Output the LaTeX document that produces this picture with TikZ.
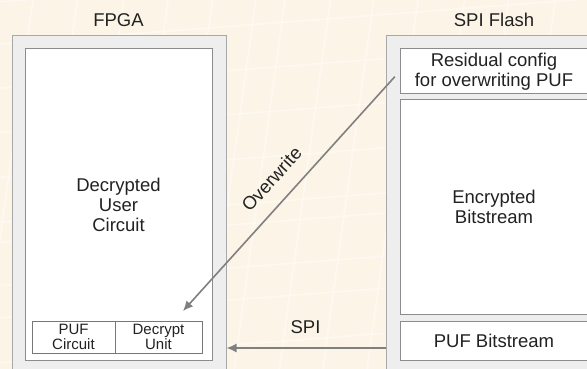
\documentclass[tikz,border=0pt]{standalone}
\usepackage{fontspec}
\setmainfont{Liberation Sans}
\usetikzlibrary{arrows.meta}
\definecolor{bgcream}{RGB}{252,245,231}
\definecolor{outerfill}{RGB}{238,238,238}
\definecolor{outerline}{RGB}{168,168,168}
\definecolor{innerline}{RGB}{140,140,140}
\definecolor{arrowgray}{RGB}{128,128,128}
\definecolor{txt}{RGB}{34,34,34}
\tikzset{
  outerbox/.style={draw=outerline, fill=outerfill, line width=1pt, inner sep=0pt, rectangle},
  innerbox/.style={draw=innerline, fill=white, line width=1pt, inner sep=0pt, rectangle, align=center, text=txt,
    font=\fontsize{18.5}{20}\selectfont},
  smallbox/.style={draw=innerline!85!black, fill=white, line width=0.8pt, inner sep=0pt, rectangle, align=center, text=txt,
    font=\fontsize{15}{15.3}\selectfont},
  title/.style={text=txt, font=\fontsize{18.5}{20}\selectfont, inner sep=0pt},
  conn/.style={draw=arrowgray, line width=1.6pt, -{Latex[length=10pt,width=9pt]}},
  texture/.style={draw=white, line width=1.6pt, opacity=0.45},
}
\begin{document}
\begin{tikzpicture}[x=1pt,y=-1pt]
\clip (0,0) rectangle (587,369);
\fill[bgcream] (0,0) rectangle (587,369);

% faint background texture
\begin{scope}[rotate around={-5:(293,185)}]
  \foreach \gx in {-20,22,66,112,156,200,243,272,317,360,404,450,494,540,586,630}
    \draw[texture] (\gx,-60) -- (\gx-25,440);
\end{scope}
\begin{scope}[rotate around={6:(293,185)}]
  \foreach \gy in {-30,12,56,100,145,190,210,253,285,330,372,410}
    \draw[texture] (-60,\gy) -- (650,\gy+20);
\end{scope}

% FPGA
\node[title] (fpgat) at (118.5,20) {FPGA};
\node[outerbox, minimum width=214pt, minimum height=344pt] (fpga) at (119,208) {};
\node[innerbox, minimum width=187pt, minimum height=311pt] (user) at (118.5,204.5) {Decrypted\\User\\Circuit};
\node[smallbox, minimum width=83pt, minimum height=32pt] (puf) at (73.5,337) {PUF\\Circuit};
\node[smallbox, minimum width=87pt, minimum height=32pt] (dec) at (158.5,337) {Decrypt\\Unit};

% SPI Flash
\node[title] (flasht) at (494,20) {SPI Flash};
\node[outerbox, minimum width=216pt, minimum height=344pt] (flash) at (494,208) {};
\node[innerbox, minimum width=188pt, minimum height=45pt] (res) at (494,71.5) {Residual config\\for overwriting PUF};
\node[innerbox, minimum width=188pt, minimum height=214pt] (enc) at (494,207) {Encrypted\\Bitstream};
\node[innerbox, minimum width=188pt, minimum height=39pt] (pufbit) at (494,340.5) {PUF Bitstream};

% Connectors
\coordinate (owend) at (183,311);
\draw[conn, shorten <=7pt] (res.west) -- (owend);
\node[title, rotate=48] (owlab) at (271.5,179) {Overwrite};

\draw[conn] (flash.west |- 0,348) -- (fpga.east |- 0,348);
\node[title] (spilab) at (305.5,327) {SPI};
\end{tikzpicture}
\end{document}
